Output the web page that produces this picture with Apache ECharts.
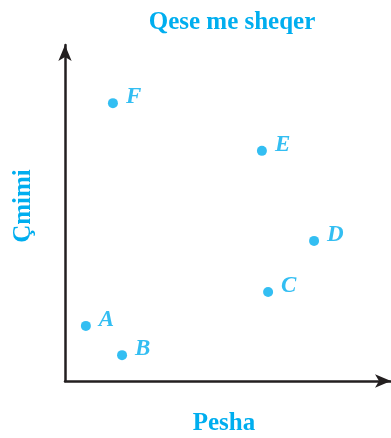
<!DOCTYPE html>
<html>
<head>
<meta charset="utf-8">
<script src="https://cdn.jsdelivr.net/npm/echarts@6/dist/echarts.min.js"></script>
<style>
  html, body { margin: 0; padding: 0; background: #fff; }
  #main { width: 391px; height: 438px; }
</style>
</head>
<body>
<div id="main"></div>
<script>
// points of the scatter (pesha, cmimi) in relative units
var names = ['A', 'B', 'C', 'D', 'E', 'F'];
var pesha = [6.4, 17.5, 62.3, 76.4, 60.4, 14.7];
var cmimi = [16.4, 7.7, 26.5, 41.7, 68.5, 82.7];

var blue = '#00aeef';
var ink = '#231f20';
var serif = '"Liberation Serif", "DejaVu Serif", serif';

var chart = echarts.init(document.getElementById('main'));

var points = names.map(function (n, i) {
  return { name: n, value: [pesha[i], cmimi[i]] };
});

var axisLine = {
  show: true,
  symbol: ['none', 'arrow'],
  symbolSize: [10, 16],
  symbolOffset: [0, 0],
  lineStyle: { color: ink, width: 2.5 }
};

var option = {
  animation: false,
  title: {
    text: 'Qese me sheqer',
    left: 227,
    textAlign: 'center',
    top: 5,
    textStyle: { color: blue, fontFamily: serif, fontWeight: 'bold', fontSize: 25 }
  },
  grid: { left: 65, right: 0, top: 45, bottom: 57, outerBoundsMode: 'none', containLabel: false },
  xAxis: {
    type: 'value',
    min: 0,
    max: 100,
    name: 'Pesha',
    nameLocation: 'middle',
    nameGap: 30,
    nameTextStyle: { color: blue, fontFamily: serif, fontWeight: 'bold', fontSize: 25, padding: [0, 8, 0, 0] },
    axisLine: axisLine,
    axisTick: { show: false },
    axisLabel: { show: false },
    splitLine: { show: false }
  },
  yAxis: {
    type: 'value',
    min: 0,
    max: 100,
    name: 'Çmimi',
    nameLocation: 'middle',
    nameGap: 29,
    nameTextStyle: { color: blue, fontFamily: serif, fontWeight: 'bold', fontSize: 25, padding: [0, 0, 0, 14] },
    axisLine: axisLine,
    axisTick: { show: false },
    axisLabel: { show: false },
    splitLine: { show: false }
  },
  series: [{
    type: 'scatter',
    symbolSize: 10,
    itemStyle: { color: blue },
    data: points,
    label: {
      show: true,
      position: 'right',
      distance: 8,
      offset: [0, -6],
      formatter: '{b}',
      color: blue,
      fontFamily: serif,
      fontStyle: 'italic',
      fontWeight: 'bold',
      fontSize: 23
    }
  }]
};

chart.setOption(option);
</script>
</body>
</html>
